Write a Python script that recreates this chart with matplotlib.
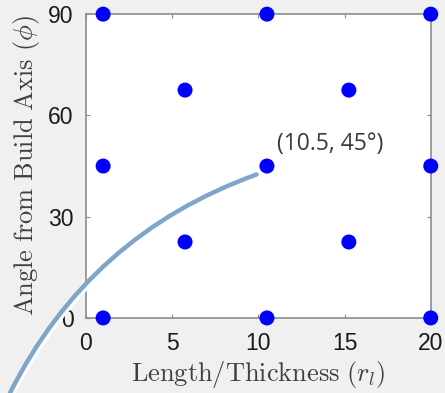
import matplotlib
matplotlib.use("Agg")
import matplotlib.pyplot as plt
import matplotlib.patheffects as pe

# Data
x_vals = [1, 10.5, 20, 5.75, 15.25, 1, 10.5, 20, 5.75, 15.25, 1, 10.5, 20]
y_vals = [0, 0, 0, 22.5, 22.5, 45, 45, 45, 67.5, 67.5, 90, 90, 90]
x_ticks = [0, 5, 10, 15, 20]
y_ticks = [0, 30, 60, 90]
annot_point = (10.5, 45)
annot_text = "(10.5, 45°)"

plt.rcParams['mathtext.fontset'] = 'cm'

fig = plt.figure(figsize=(4.45, 3.93), dpi=100, facecolor='#f0f0f0')
ax = fig.add_axes([0.193, 0.191, 0.775, 0.773])
ax.set_facecolor('white')

ax.scatter(x_vals, y_vals, s=117, color='#0000ff', zorder=5, clip_on=False, edgecolors='none')

ax.set_xlim(0, 20)
ax.set_ylim(0, 90)
ax.set_xticks(x_ticks)
ax.set_yticks(y_ticks)
for s in ax.spines.values():
    s.set_color('#8c8c8c')
    s.set_linewidth(1.2)
ax.tick_params(direction='in', length=3, color='#8c8c8c', top=True, right=True,
               labelsize=16.5, labelcolor='#1a1a1a')
ax.tick_params(axis='x', pad=10)
ax.tick_params(axis='y', pad=9)
for lab in ax.get_xticklabels() + ax.get_yticklabels():
    lab.set_family('Liberation Sans')

ax.set_xlabel(r'$\mathrm{Length/Thickness}\ (r_l)$', fontsize=19, color='#404040', labelpad=3)
ax.set_ylabel(r'$\mathrm{Angle\ from\ Build\ Axis}\ (\phi)$', fontsize=19, color='#404040', labelpad=4)

# annotation text
ax.text(11.1, 51.5, annot_text, fontsize=16.5, color='#3a3a3a', family='Open Sans',
        ha='left', va='center')

# curved callout line
ax.annotate('', xy=(9.9, 42.5), xycoords='data',
            xytext=(10 / 445, 0.0), textcoords='figure fraction',
            arrowprops=dict(arrowstyle='-', color='#7fa6c8', lw=3.2,
                            connectionstyle='arc3,rad=-0.2',
                            shrinkA=0, shrinkB=0,
                            path_effects=[pe.SimpleLineShadow(offset=(1.5, -1.5), shadow_color='#ffffff', alpha=0.95, linewidth=3.5),
                                          pe.Normal()]),
            annotation_clip=False, zorder=10)

fig.savefig('out.png', dpi=100, facecolor=fig.get_facecolor())
